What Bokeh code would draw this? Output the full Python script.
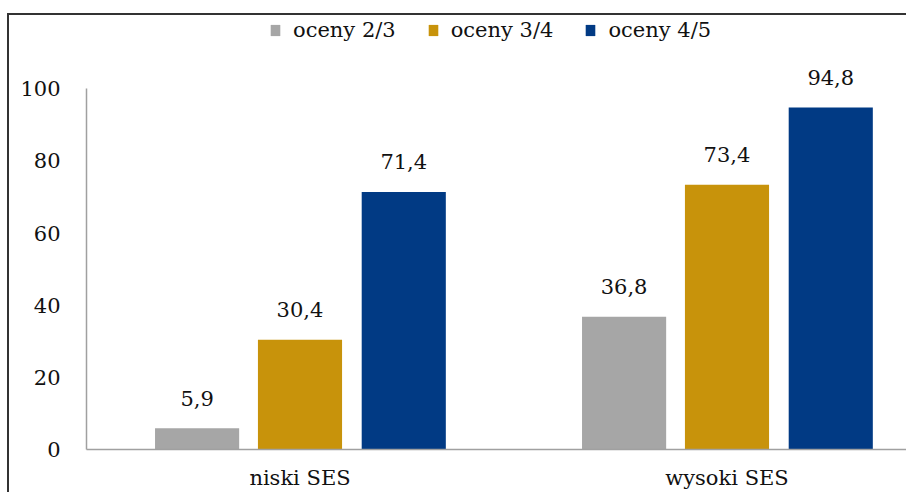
from bokeh.plotting import figure
from bokeh.models import Range1d, FixedTicker, Legend, LegendItem, ColumnDataSource
from bokeh.embed import file_html
from bokeh.resources import INLINE
from bokeh.core.properties import value

# ---- data ----
groups = ["niski SES", "wysoki SES"]
series = ["oceny 2/3", "oceny 3/4", "oceny 4/5"]
values_23 = [5.9, 36.8]
values_34 = [30.4, 73.4]
values_45 = [71.4, 94.8]
y_ticks = [0, 20, 40, 60, 80, 100]

colors = ["#A6A6A6", "#C8930B", "#013A84"]
FONT = "DejaVu Serif"
TXT = "#111111"

group_centers = [0.5, 1.5]
offsets = [-0.241, 0.0, 0.243]
bar_width = 0.197

frame_css = """
:host::after {
  content: "";
  position: absolute;
  left: 7px; top: 13px; width: 899px; height: 0px;
  border-top: 2px solid #333333;
  pointer-events: none;
}
:host::before {
  content: "";
  position: absolute;
  left: 7px; top: 13px; width: 0px; height: 479px;
  border-left: 2px solid #333333;
  pointer-events: none;
  z-index: 5;
}
"""

p = figure(width=906, height=492, output_backend="svg", toolbar_location=None,
           x_range=Range1d(0, 820 / 427), y_range=Range1d(0, 449 / 3.607),
           min_border_left=86, min_border_right=0, min_border_top=0, min_border_bottom=43,
           stylesheets=[frame_css])
p.background_fill_color = "white"
p.border_fill_color = "white"
p.outline_line_color = None
p.xgrid.visible = False
p.ygrid.visible = False

legend_items = []
for vals, name, col, off in zip([values_23, values_34, values_45], series, colors, offsets):
    xs = [c + off for c in group_centers]
    src = ColumnDataSource(dict(x=xs, top=vals, lab=[("%.1f" % v).replace(".", ",") for v in vals]))
    r = p.vbar(x="x", top="top", width=bar_width, bottom=0, source=src,
               fill_color=col, line_color=None)
    p.text(x="x", y="top", text="lab", source=src, text_align="center", text_baseline="middle",
           y_offset=-30, text_font=value(FONT), text_font_size="21px", text_color=TXT)
    legend_items.append(LegendItem(label=name, renderers=[r]))

legend = Legend(items=legend_items, location=(183, 407), orientation="horizontal",
                glyph_width=12, glyph_height=14, label_standoff=12, spacing=31,
                padding=0, margin=0, border_line_color=None, background_fill_alpha=0,
                label_text_font=FONT, label_text_font_size="21px", label_text_color=TXT)
p.add_layout(legend)

# y axis
p.yaxis.ticker = FixedTicker(ticks=y_ticks)
p.yaxis.bounds = (0, 100)
p.yaxis.axis_line_color = "#A0A0A0"
p.yaxis.axis_line_width = 1.5
p.yaxis.major_tick_line_color = None
p.yaxis.minor_tick_line_color = None
p.yaxis.major_label_standoff = 20
p.yaxis.major_label_text_font = FONT
p.yaxis.major_label_text_font_size = "21px"
p.yaxis.major_label_text_color = TXT

# x axis
p.xaxis.ticker = FixedTicker(ticks=group_centers)
p.xaxis.major_label_overrides = {c: g for c, g in zip(group_centers, groups)}
p.xaxis.axis_line_color = "#A0A0A0"
p.xaxis.axis_line_width = 1.5
p.xaxis.major_tick_line_color = None
p.xaxis.minor_tick_line_color = None
p.xaxis.major_label_standoff = 10
p.xaxis.major_label_text_font = FONT
p.xaxis.major_label_text_font_size = "21px"
p.xaxis.major_label_text_color = TXT

open("out.html", "w").write(file_html(p, INLINE))
